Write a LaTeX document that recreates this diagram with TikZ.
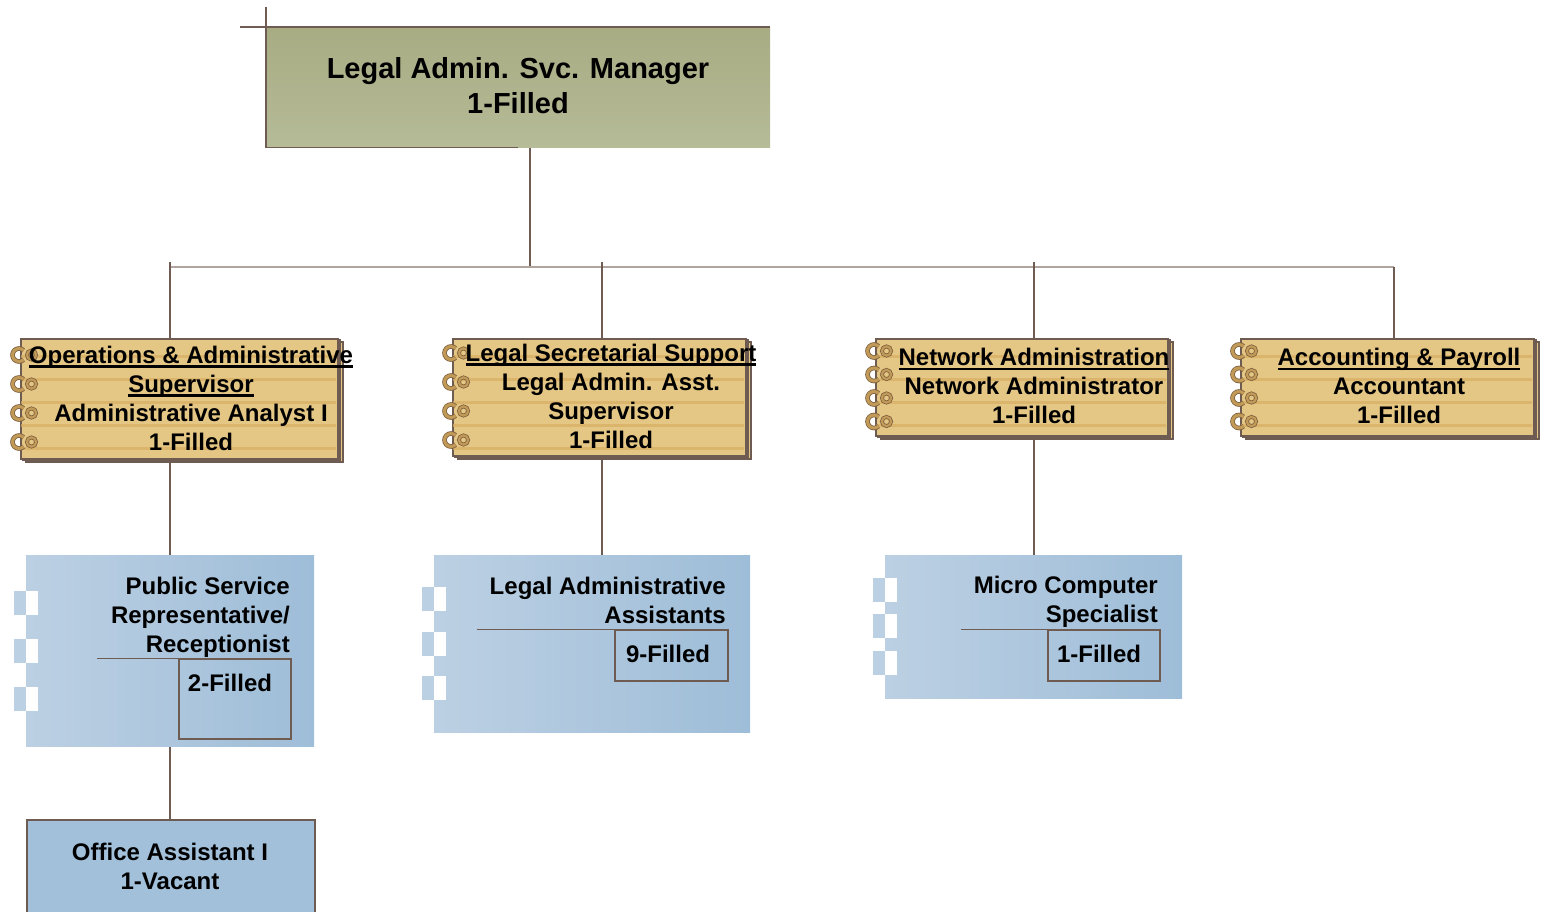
\documentclass[tikz,border=0pt]{standalone}
\usepackage{fontspec}
\setmainfont{Liberation Sans}
\usetikzlibrary{calc,backgrounds}

\definecolor{edge}{HTML}{6E5B52}
\definecolor{busgray}{HTML}{B0A49E}
\definecolor{padfill}{HTML}{E5C785}
\definecolor{padstripe}{HTML}{D9AE62}
\definecolor{ringgold}{HTML}{C29A58}
\definecolor{ringdark}{HTML}{7E6040}
\definecolor{blueL}{HTML}{BCD0E3}
\definecolor{blueR}{HTML}{9EBDD8}
\definecolor{blueS}{HTML}{A2C0DA}
\definecolor{oliveT}{HTML}{A7AC83}
\definecolor{oliveB}{HTML}{B6BB98}

% heavy underline for section headings
\newsavebox\headbox
\newcommand\headline[1]{%
  \sbox\headbox{#1}%
  \rlap{\raisebox{-4.5pt}{\rule{\wd\headbox}{2.2pt}}}\usebox\headbox}

\tikzset{
  titletext/.style={font=\bfseries\fontsize{29}{35}\selectfont, align=center, inner sep=0pt},
  boxtext/.style={font=\bfseries\fontsize{24}{29}\selectfont, inner sep=0pt},
  padbody/.style={draw=edge, line width=1.5pt, fill=padfill, anchor=north west, inner sep=0pt},
  padcopy/.style={draw=edge, line width=1.5pt, fill=padfill},
  stripe/.style={padstripe, line width=3pt, opacity=0.7},
  bluebox/.style={left color=blueL, right color=blueR, anchor=north west, inner sep=0pt},
  countbox/.style={draw=edge, line width=1.5pt, anchor=north west, inner sep=0pt},
  sepline/.style={draw=edge, line width=1pt},
  conn/.style={draw=edge, line width=1.6pt},
  busline/.style={draw=busgray, line width=1.6pt},
  deco/.style={draw=edge, line width=1.6pt},
}

% spiral-bound note pad: name, x, y, width, height, first ring offset, ring spacing
\newcommand\padbox[7]{%
  \path[padcopy] (#2+6,#3+4) rectangle ++(#4,#5);
  \path[padcopy] (#2+3,#3+2) rectangle ++(#4,#5);
  \node[padbody, minimum width=#4pt, minimum height=#5pt] (#1) at (#2,#3) {};
  \begin{scope}
    \clip (#2+1,#3+1) rectangle ++(#4-2,#5-2);
    \foreach \k in {0,...,5} \draw[stripe] (#2,#3+18+\k*23) -- ++(#4,0);
  \end{scope}
  \foreach \k in {0,...,3} {%
    \draw[ringdark, line width=4.6pt] (#2-1,#3+#6+\k*#7) ++(45:6.5) arc (45:315:6.5);
    \draw[ringgold, line width=3pt] (#2-1,#3+#6+\k*#7) ++(45:6.5) arc (45:315:6.5);
    \draw[ringdark, line width=3.8pt] (#2+11.5,#3+#6+\k*#7) circle (4.6);
    \draw[ringgold, line width=2.2pt] (#2+11.5,#3+#6+\k*#7) circle (4.6);
  }%
}

% side tabs of a card: x of the card edge, then three tab tops
\newcommand\cardtabs[4]{%
  \foreach \t in {#2,#3,#4} {%
    \fill[blueL] (#1-12,\t) rectangle ++(12,24);
    \fill[white] (#1,\t) rectangle ++(12,24);
  }%
}

\begin{document}
\begin{tikzpicture}[x=1pt,y=-1pt]
\useasboundingbox (0,0) rectangle (1549,912);

% manager
\node[top color=oliveT, bottom color=oliveB, anchor=north west, inner sep=0pt,
      minimum width=504pt, minimum height=120pt] (mgr) at (266,27) {};
\node[titletext] (mgrtxt) at (518,86) {Legal Admin. Svc. Manager\\1-Filled};
\draw[deco] ($(mgr.north west)+(-26,0)$) -- (mgr.north east);
\draw[deco] ($(mgr.north west)+(0,-20)$) -- (mgr.south west) -- (mgr.south);

% junction points of the bus
\coordinate (j0) at (530,267);
\coordinate (d1) at (170,262);
\coordinate (d2) at (602,262);
\coordinate (d3) at (1034,262);
\coordinate (d4) at (1394,267);
\coordinate (b1) at (170,267);

% section heads
\padbox{ops}{20}{338}{317}{120}{17}{29}
\node[boxtext, align=center] (opstxt) at (191,398)
  {\headline{Operations \& Administrative}\\\headline{Supervisor}\\Administrative Analyst I\\1-Filled};

\padbox{sec}{452}{338}{293}{117}{15}{29}
\node[boxtext, align=center] (sectxt) at (611,396)
  {\headline{Legal Secretarial Support}\\Legal Admin. Asst.\\Supervisor\\1-Filled};

\padbox{net}{875}{338}{292}{97}{13}{23.5}
\node[boxtext, align=center] (nettxt) at (1034,386)
  {\headline{Network Administration}\\Network Administrator\\1-Filled};

\padbox{acc}{1240}{338}{293}{97}{13}{23.5}
\node[boxtext, align=center] (acctxt) at (1399,386)
  {\headline{Accounting \& Payroll}\\Accountant\\1-Filled};

% staff cards
\node[bluebox, minimum width=288pt, minimum height=191pt] (psr) at (26,555) {};
\cardtabs{26}{591}{639}{687}
\node[boxtext, align=right, anchor=east] (psrtxt) at (290,617)
  {Public Service\\Representative/\\Receptionist};
\draw[sepline] (97,658) -- (178,658);
\node[countbox, minimum width=112pt, minimum height=80pt] (psrn) at (178,658) {};
\node[boxtext] (psrntxt) at (230,683) {2-Filled};

\node[bluebox, minimum width=316pt, minimum height=177pt] (laa) at (434,555) {};
\cardtabs{434}{587}{632}{676}
\node[boxtext, align=right, anchor=east] (laatxt) at (726,600)
  {Legal Administrative\\Assistants};
\draw[sepline] (477,629) -- (614,629);
\node[countbox, minimum width=113pt, minimum height=51pt] (laan) at (614,629) {};
\node[boxtext] (laantxt) at (668,654) {9-Filled};

\node[bluebox, minimum width=297pt, minimum height=143pt] (mcs) at (885,555) {};
\cardtabs{885}{578}{614}{651}
\node[boxtext, align=right, anchor=east] (mcstxt) at (1158,602)
  {Micro Computer\\Specialist};
\draw[sepline] (961,629) -- (1047,629);
\node[countbox, minimum width=112pt, minimum height=51pt] (mcsn) at (1047,629) {};
\node[boxtext] (mcsntxt) at (1099,654) {1-Filled};

\node[draw=edge, line width=1.6pt, fill=blueS, anchor=north west, inner sep=0pt,
      minimum width=288pt, minimum height=120pt] (oa) at (26,819) {};
\node[boxtext, align=center] (oatxt) at (170,866) {Office Assistant I\\1-Vacant};

% connectors
\begin{scope}[on background layer]
  \draw[conn] (mgr.south -| j0) -- (j0);
  \draw[busline] (b1) -- (d4);
  \draw[conn] (d1) -- (d1 |- ops.north);
  \draw[conn] (d2) -- (d2 |- sec.north);
  \draw[conn] (d3) -- (d3 |- net.north);
  \draw[conn] (d4) -- (d4 |- acc.north);
  \draw[conn] (ops.south -| d1) -- (psr.north -| d1);
  \draw[conn] (sec.south -| d2) -- (laa.north -| d2);
  \draw[conn] (net.south -| d3) -- (mcs.north -| d3);
  \draw[conn] (psr.south -| d1) -- (oa.north -| d1);
\end{scope}
\end{tikzpicture}
\end{document}
